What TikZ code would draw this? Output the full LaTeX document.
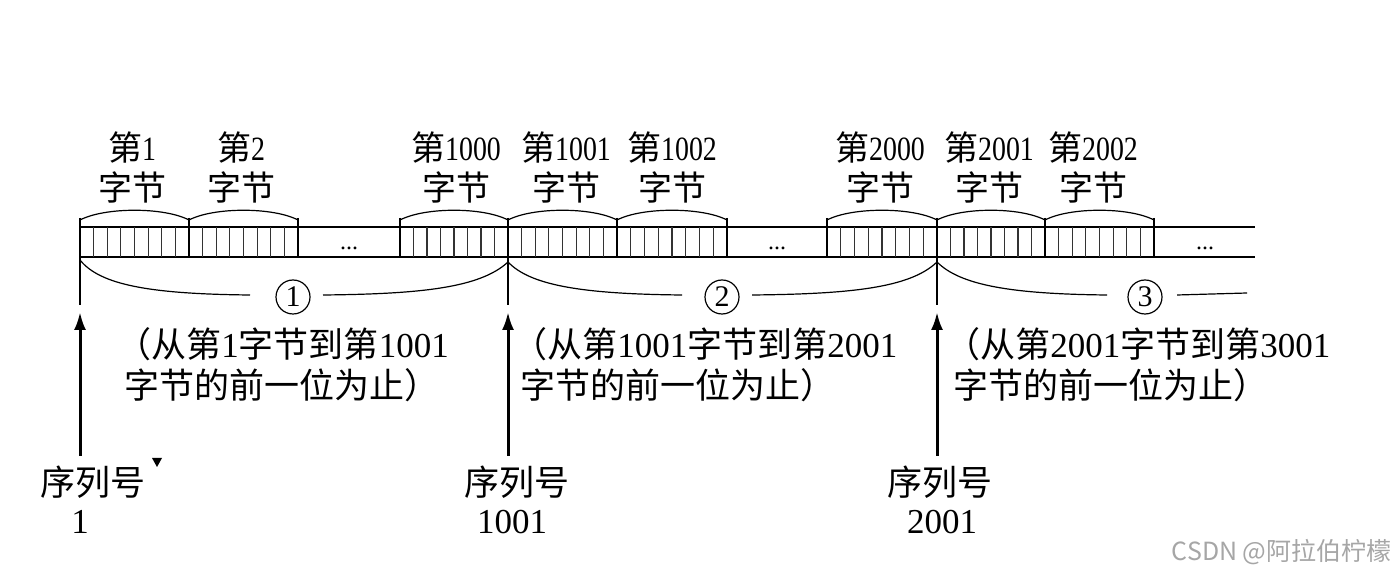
\documentclass[tikz,border=0pt]{standalone}
\usepackage{fontspec}
\setmainfont{Liberation Serif}
\newfontfamily\cjk{Noto Sans CJK SC}
\usetikzlibrary{arrows.meta}
\newcommand\zh[1]{{\cjk #1}}
\newcommand\dg[1]{\scalebox{0.82}[1]{#1}}
\begin{document}
\begin{tikzpicture}[x=0.5pt,y=-0.5pt,
  tape/.style={line width=0.7pt},
  bnd/.style={line width=1.3pt},
  bit/.style={line width=0.55pt, black!80},
  bytearc/.style={line width=0.6pt},
  brace/.style={line width=0.6pt},
  lbl/.style={font=\fontsize{17}{20}\selectfont, align=center, inner sep=0pt},
  note/.style={font=\fontsize{17.5}{20.5}\selectfont, align=left, inner sep=0pt, anchor=north west},
  seq/.style={font=\fontsize{17.5}{20}\selectfont, inner sep=0pt},
  circnum/.style={draw, circle, line width=0.6pt, minimum size=17pt, inner sep=0pt, font=\fontsize{15}{15}\selectfont},
  arr/.style={line width=1.5pt, -{Latex[length=9pt,width=6pt]}},
  dots/.style={font=\fontsize{12}{12}\selectfont, inner sep=0pt, anchor=base},
]
\useasboundingbox (0,0) rectangle (1396,576);

% tape lines
\draw[tape] (80,227) -- (1255,227);
\draw[tape] (80,257) -- (1255,257);

% bytes
\foreach \a/\b in {80/189, 189/298, 400/508, 508/617, 617/727, 827/937, 937/1045, 1045/1154}{
  \foreach \k in {1,...,7}
    \draw[bit] ({\a+\k*(\b-\a)/8},227) -- ({\a+\k*(\b-\a)/8},257);
  \draw[bnd] (\a,218) -- (\a,257);
  \draw[bnd] (\b,218) -- (\b,257);
  \draw[bytearc] (\a,220) .. controls ({\a+25},207) and ({\b-25},207) .. (\b,220);
}

% gap dots
\node[dots] (g1) at (349,250) {...};
\node[dots] (g2) at (777,250) {...};
\node[dots] (g3) at (1205,250) {...};

% top labels
\node[lbl] (l1) at (132,167) {\zh{第}\dg{1}\\\zh{字节}};
\node[lbl] (l2) at (241,167) {\zh{第}\dg{2}\\\zh{字节}};
\node[lbl] (l1000) at (456,167) {\zh{第}\dg{1000}\\\zh{字节}};
\node[lbl] (l1001) at (566,167) {\zh{第}\dg{1001}\\\zh{字节}};
\node[lbl] (l1002) at (672,167) {\zh{第}\dg{1002}\\\zh{字节}};
\node[lbl] (l2000) at (880,167) {\zh{第}\dg{2000}\\\zh{字节}};
\node[lbl] (l2001) at (989,167) {\zh{第}\dg{2001}\\\zh{字节}};
\node[lbl] (l2002) at (1093,167) {\zh{第}\dg{2002}\\\zh{字节}};

% segment marker lines
\draw[brace] (80,257) -- (80,305);
\draw[brace] (508,257) -- (508,305);
\draw[brace] (937,257) -- (937,305);

% circled numbers
\node[circnum] (c1) at (293,297) {1};
\node[circnum] (c2) at (722,297) {2};
\node[circnum] (c3) at (1145,297) {3};

% braces
\draw[brace] (80,260) .. controls (100,285) and (150,294) .. (250,295);
\draw[brace] (323,295) .. controls (420,294) and (480,288) .. (508,262);
\draw[brace] (508,262) .. controls (530,285) and (580,294) .. (682,295);
\draw[brace] (752,295) .. controls (850,294) and (910,288) .. (937,262);
\draw[brace] (937,262) .. controls (960,285) and (1010,294) .. (1107,295);
\draw[brace] (1177,295) -- (1247,293);

% arrows
\coordinate (s1) at (80,456);  \coordinate (t1) at (80,312);
\coordinate (s2) at (508,456); \coordinate (t2) at (508,312);
\coordinate (s3) at (937,456); \coordinate (t3) at (937,312);
\draw[arr] (s1) -- (t1);
\draw[arr] (s2) -- (t2);
\draw[arr] (s3) -- (t3);

% notes
\node[note] (n1) at (116,327) {\zh{（从第}1\zh{字节到第}1001\\\hspace{4pt}\zh{字节的前一位为止）}};
\node[note] (n2) at (512,327) {\zh{（从第}1001\zh{字节到第}2001\\\hspace{4pt}\zh{字节的前一位为止）}};
\node[note] (n3) at (945,327) {\zh{（从第}2001\zh{字节到第}3001\\\hspace{4pt}\zh{字节的前一位为止）}};

% sequence numbers
\node[seq] (q1) at (93,482) {\zh{序列号}};
\node[seq] (v1) at (80,522) {1};
\fill (152,458) -- (162,458) -- (157,467) -- cycle;
\node[seq] (q2) at (517,482) {\zh{序列号}};
\node[seq] (v2) at (512,522) {1001};
\node[seq] (q3) at (940,482) {\zh{序列号}};
\node[seq] (v3) at (942,522) {2001};

% watermark
\node[inner sep=0pt, anchor=east, text=black!35, font=\cjk\fontsize{12.5}{13}\selectfont] (wm) at (1392,552) {CSDN @阿拉伯柠檬};
\end{tikzpicture}
\end{document}
